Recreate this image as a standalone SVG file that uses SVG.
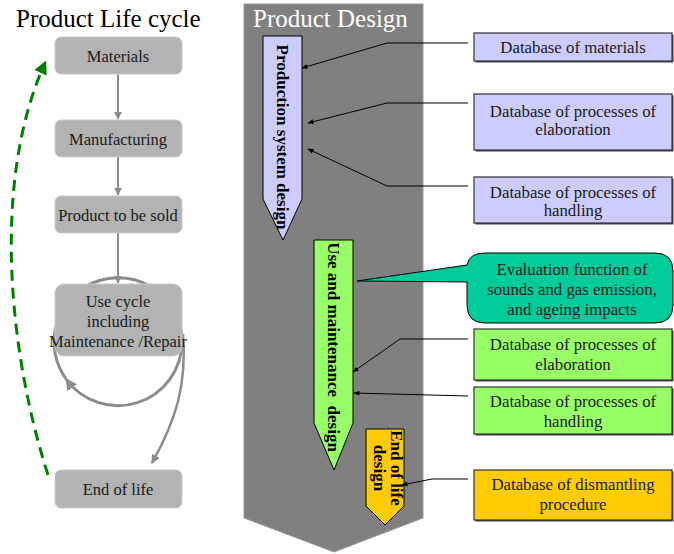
<svg xmlns="http://www.w3.org/2000/svg" width="674" height="554" viewBox="0 0 674 554">
<style>
text{font-family:"Liberation Serif","Times New Roman",serif;fill:#1a1a1a}
.lb{fill:#b3b3b3;stroke:#c9c9c9;stroke-width:1}
.lt{font-size:16.5px;text-anchor:middle}
.db{stroke:#333;stroke-width:1.2}
.sh{fill:#444}
.dt{font-size:16.8px;text-anchor:middle}
.vt{font-size:17px;font-weight:bold;text-anchor:middle;fill:#000}
.gc{fill:none;stroke:#8c8c8c;stroke-width:2}
.bc{fill:none;stroke:#000;stroke-width:1}
</style>
<defs>
<marker id="ga" viewBox="0 0 10 10" refX="9" refY="5" markerWidth="4" markerHeight="4" orient="auto" markerUnits="strokeWidth"><path d="M0,0 L10,5 L0,10 z" fill="#8c8c8c"/></marker>
<marker id="gb" viewBox="0 0 10 10" refX="9" refY="5" markerWidth="4" markerHeight="4" orient="auto" markerUnits="strokeWidth"><path d="M0,0 L10,5 L0,10 z" fill="#8c8c8c"/></marker>
<marker id="gc2" viewBox="0 0 10 10" refX="9" refY="5" markerWidth="3.6" markerHeight="3.6" orient="auto" markerUnits="strokeWidth"><path d="M0,0 L10,5 L0,10 z" fill="#8c8c8c"/></marker>
<marker id="ka" viewBox="0 0 10 10" refX="9" refY="5" markerWidth="8" markerHeight="6" orient="auto" markerUnits="strokeWidth"><path d="M0,1 L10,5 L0,9 z" fill="#000"/></marker>
<marker id="gr" viewBox="0 0 10 10" refX="8" refY="5" markerWidth="4.5" markerHeight="4.5" orient="auto" markerUnits="strokeWidth"><path d="M0,0 L10,5 L0,10 z" fill="#008000"/></marker>
</defs>

<!-- Product Life cycle -->
<text x="16" y="27" style="font-size:25px;fill:#000">Product Life cycle</text>

<g id="lc-connectors">
<line class="gc" x1="118" y1="74" x2="118" y2="119" marker-end="url(#ga)"/>
<line class="gc" x1="118" y1="157" x2="118" y2="195" marker-end="url(#ga)"/>
<line class="gc" x1="118" y1="233" x2="118" y2="283" marker-end="url(#ga)"/>
<path d="M182 342 A64 64 0 0 1 66 379" fill="none" stroke="#8c8c8c" stroke-width="3" marker-end="url(#gb)"/>
<path d="M66 379 A64 64 0 1 1 182 342" fill="none" stroke="#8c8c8c" stroke-width="3"/>
<path d="M183 334 C187 385 176 420 152 463" fill="none" stroke="#8c8c8c" stroke-width="2.5" marker-end="url(#gc2)"/>
<path d="M48 475 C8 350 -8 180 45 63" fill="none" stroke="#008000" stroke-width="3" stroke-dasharray="11 7" marker-end="url(#gr)"/>
</g>

<g id="materials"><rect class="lb" x="55" y="37" width="127" height="37" rx="6"/><text class="lt" x="118" y="62">Materials</text></g>
<g id="manufacturing"><rect class="lb" x="55" y="120" width="127" height="37" rx="6"/><text class="lt" x="118" y="145">Manufacturing</text></g>
<g id="product-sold"><rect class="lb" x="55" y="196" width="127" height="37" rx="6"/><text class="lt" x="118" y="221">Product to be sold</text></g>
<g id="use-cycle"><rect class="lb" x="55" y="284" width="127" height="72" rx="9"/>
<text class="lt" x="118" y="307">Use cycle</text><text class="lt" x="118" y="327">including</text><text class="lt" x="118" y="347">Maintenance /Repair</text></g>
<g id="end-of-life"><rect class="lb" x="55" y="470" width="127" height="38" rx="6"/><text class="lt" x="118" y="495">End of life</text></g>

<!-- Product Design panel -->
<g id="product-design">
<polygon points="244,4 423,4 423,518 334,552 244,518" fill="#808080" stroke="#9a9a9a" stroke-width="1"/>
<text x="253" y="27" style="font-size:25px;fill:#fff">Product Design</text>
</g>

<g id="production-system-design">
<polygon points="263,36 302,36 302,199 283,240 263,199" fill="#ccccff" stroke="#000" stroke-width="1"/>
<text class="vt" transform="translate(283,137) rotate(90)" dy="0.33em">Production system design</text>
</g>
<g id="use-maintenance-design">
<polygon points="314,240 353,240 353,423 334,470 314,423" fill="#99ff66" stroke="#000" stroke-width="1"/>
<text class="vt" transform="translate(334,347) rotate(90)" dy="0.33em" xml:space="preserve">Use and maintenance  design</text>
</g>
<g id="end-of-life-design">
<polygon points="366,429 404,429 404,506 385,525 366,506" fill="#ffcc00" stroke="#000" stroke-width="1"/>
<text class="vt" transform="translate(386,468) rotate(90)"><tspan x="0" y="-5">End of life</tspan><tspan x="0" y="12">design</tspan></text>
</g>

<g id="connectors">
<polyline class="bc" points="468,43 387,43 302,68" marker-end="url(#ka)"/>
<polyline class="bc" points="468,103 387,103 308,123" marker-end="url(#ka)"/>
<polyline class="bc" points="468,186 387,186 308,149" marker-end="url(#ka)"/>
<polyline class="bc" points="468,339 400,339 353,372" marker-end="url(#ka)"/>
<polyline class="bc" points="468,396 354,393" marker-end="url(#ka)"/>
<polyline class="bc" points="468,479 432,479 402,485" marker-end="url(#ka)"/>
</g>

<g id="db-materials"><rect class="sh" x="475.5" y="34.5" width="198" height="28"/><rect class="db" x="474" y="33" width="198" height="28" fill="#ccccff"/><text class="dt" x="573" y="53">Database of materials</text></g>
<g id="db-elaboration-1"><rect class="sh" x="475.5" y="95.5" width="198" height="56"/><rect class="db" x="474" y="94" width="198" height="56" fill="#ccccff"/><text class="dt" x="573" y="117">Database of processes of</text><text class="dt" x="573" y="135">elaboration</text></g>
<g id="db-handling-1"><rect class="sh" x="475.5" y="178.5" width="198" height="46"/><rect class="db" x="474" y="177" width="198" height="46" fill="#ccccff"/><text class="dt" x="573" y="198">Database of processes of</text><text class="dt" x="573" y="216">handling</text></g>

<g id="evaluation-callout">
<path d="M485 253 H655 Q673 253 673 271 V305 Q673 323 655 323 H485 Q467 323 467 305 V282 L357 281 L467 265 Q469 253 485 253 Z" fill="#00cc99" stroke="#000" stroke-width="1"/>
<text class="dt" x="572" y="275">Evaluation function of</text><text class="dt" x="572" y="295">sounds and gas emission,</text><text class="dt" x="572" y="315">and ageing impacts</text>
</g>

<g id="db-elaboration-2"><rect class="sh" x="475.5" y="330.5" width="198" height="51"/><rect class="db" x="474" y="329" width="198" height="51" fill="#99ff66"/><text class="dt" x="573" y="350">Database of processes of</text><text class="dt" x="573" y="370">elaboration</text></g>
<g id="db-handling-2"><rect class="sh" x="475.5" y="388.5" width="198" height="47"/><rect class="db" x="474" y="387" width="198" height="47" fill="#99ff66"/><text class="dt" x="573" y="407">Database of processes of</text><text class="dt" x="573" y="427">handling</text></g>
<g id="db-dismantling"><rect class="sh" x="475.5" y="471.5" width="198" height="50"/><rect class="db" x="474" y="470" width="198" height="50" fill="#ffcc00"/><text class="dt" x="573" y="490">Database of dismantling</text><text class="dt" x="573" y="510">procedure</text></g>
</svg>
